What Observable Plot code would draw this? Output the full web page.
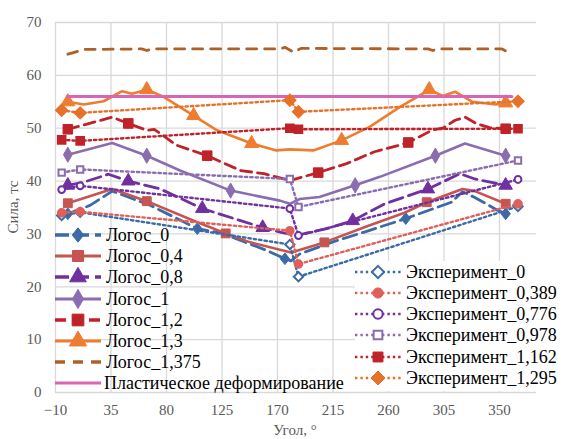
<!DOCTYPE html>
<html><head><meta charset="utf-8">
<script src="https://cdn.jsdelivr.net/npm/d3@7"></script>
<script src="https://cdn.jsdelivr.net/npm/@observablehq/plot@0.6"></script>
<style>
body{margin:0;background:#fff;}
#wrap{position:relative;width:564px;height:439px;overflow:hidden;background:#fff;font-family:"Liberation Serif","Times New Roman",serif;}
#wrap svg.plot{position:absolute;left:0;top:0;}
.ttl{position:absolute;font-size:15px;line-height:15px;color:#595959;white-space:nowrap;}
.leg{position:absolute;}
.row{position:absolute;left:0;height:20px;line-height:20px;font-size:18px;color:#000;white-space:nowrap;}
.row svg{position:absolute;left:0;top:0;}
.row span{position:absolute;top:0;}
</style></head><body>
<div id="wrap"></div>
<script>
// ---- tick labels ----
const xTicks = [-10, 35, 80, 125, 170, 215, 260, 305, 350];
const yTicks = [0, 10, 20, 30, 40, 50, 60, 70];

// ---- series names ----
const logosNames = ["Логос_0", "Логос_0,4", "Логос_0,8", "Логос_1", "Логос_1,2", "Логос_1,3", "Логос_1,375"];
const plasticName = "Пластическое деформирование";
const expNames = ["Эксперимент_0", "Эксперимент_0,389", "Эксперимент_0,776", "Эксперимент_0,978", "Эксперимент_1,162", "Эксперимент_1,295"];

// ---- Логос series (angle, force, angles that carry a marker) ----
const logos0Angle = [0, 18, 36, 67, 105, 124, 161, 176, 181, 188, 215, 241, 274, 311, 320, 330, 349, 355];
const logos0Force = [33.8, 35.4, 38.1, 35.4, 31.0, 30.2, 26.9, 25.3, 24.9, 26.2, 28.5, 30.4, 32.9, 36.0, 38.0, 36.9, 34.4, 33.8];
const logos0Markers = [0, 105, 176, 274, 355];

const logos04Angle = [0, 36, 64, 105, 128, 148, 181, 208, 241, 273, 291, 320, 330, 355];
const logos04Force = [35.8, 38.5, 36.2, 32.2, 30.1, 28.4, 26.5, 28.4, 31.3, 34.0, 36.0, 38.5, 38.1, 35.7];
const logos04Markers = [0, 64, 128, 208, 291, 355];

const logos08Angle = [0, 13, 33, 49, 75, 109, 158, 173, 185, 210, 231, 257, 292, 318, 330, 355];
const logos08Force = [39.2, 39.8, 41.3, 40.0, 38.5, 34.8, 31.2, 30.3, 29.7, 31.0, 32.5, 35.7, 38.5, 41.4, 40.4, 39.2];
const logos08Markers = [0, 49, 109, 158, 231, 292, 355];

const logos1Angle = [0, 36, 64, 91, 132, 172, 180, 188, 204, 233, 253, 298, 322, 355];
const logos1Force = [45.0, 47.2, 44.8, 42.0, 38.2, 36.3, 35.7, 36.6, 37.0, 39.2, 40.8, 44.8, 47.1, 44.8];
const logos1Markers = [0, 64, 132, 233, 298, 355];

const logos12Angle = [0, 36, 49, 64, 70, 88, 113, 140, 159, 180, 203, 226, 248, 269, 276, 296, 304, 314, 322, 331, 342, 355];
const logos12Force = [49.8, 52.1, 50.9, 49.6, 49.8, 46.8, 44.8, 42.0, 41.4, 40.1, 41.6, 43.3, 45.5, 46.8, 47.3, 49.7, 50.0, 51.5, 52.1, 50.9, 50.1, 49.9];
const logos12Markers = [0, 49, 113, 203, 276, 355];

const logos13Angle = [0, 13, 29, 44, 52, 64, 78, 102, 121, 149, 169, 180, 199, 222, 245, 269, 283, 293, 304, 314, 328, 347, 355];
const logos13Force = [55.0, 54.5, 55.1, 57.0, 56.5, 57.3, 55.9, 52.4, 49.6, 47.1, 45.8, 46.0, 45.8, 47.7, 50.3, 54.0, 55.9, 57.3, 56.1, 56.9, 55.0, 54.5, 54.8];
const logos13Markers = [0, 64, 102, 149, 222, 293, 355];

const logos1375Angle = [0, 6, 13, 60, 64, 68, 172, 176, 183, 189, 292, 296, 300, 352, 360];
const logos1375Force = [64.0, 64.4, 64.9, 65.0, 64.7, 65.0, 65.0, 65.3, 64.4, 65.1, 65.0, 64.7, 65.0, 65.0, 64.0];
const logos1375Markers = [];

const plasticAngle = [0, 360];
const plasticForce = [56, 56];

// ---- Эксперимент series ----
const expAngle = [-5, 10, 180, 187, 365];
const exp0Force = [33.5, 34.1, 28.0, 21.9, 35.2];
const exp0389Force = [34.0, 34.2, 30.6, 24.3, 35.7];
const exp0776Force = [38.4, 39.1, 34.8, 29.7, 40.3];
const exp0978Force = [41.6, 42.2, 40.4, 35.1, 43.9];
const exp1162Force = [47.8, 47.6, 50.0, 49.8, 49.9];
const exp1295Force = [53.4, 52.9, 55.3, 53.1, 55.1];

// ---- styling (separate from data) ----
const wideDiamond = {draw(ctx, size){const s=Math.sqrt(size);const h=s*0.62,w=s*0.5;ctx.moveTo(0,-h);ctx.lineTo(w,0);ctx.lineTo(0,h);ctx.lineTo(-w,0);ctx.closePath();}};
const logosStyle = [
  {color:"#3b6ba6", dash:"14,6", sym:wideDiamond, r:5.3, w:2.8},
  {color:"#c65450", dash:null, sym:"square", r:5.0, w:2.6},
  {color:"#7030a0", dash:"14,6", sym:"triangle", r:5.0, w:2.8},
  {color:"#8a6db0", dash:null, sym:"diamond", r:4.6, w:2.6},
  {color:"#c0222a", dash:"11,6", sym:"square", r:5.4, w:2.8},
  {color:"#ed7d31", dash:null, sym:"triangle", r:5.2, w:2.6},
  {color:"#ad6128", dash:"10,8", sym:null, r:0, w:2.8}
];
const plasticStyle = {color:"#d965b6", w:3};
const expStyle = [
  {color:"#3b6ba6", sym:"diamond2", r:4.2, fill:"white"},
  {color:"#df5f5b", sym:"circle", r:3.8, fill:"#df5f5b"},
  {color:"#7030a0", sym:"circle", r:3.4, fill:"white"},
  {color:"#8a6db0", sym:"square", r:3.6, fill:"white"},
  {color:"#c0222a", sym:"square", r:4.3, fill:"#c0222a"},
  {color:"#e8712a", sym:"diamond2", r:5.0, fill:"#e8712a"}
];

const logosData = [
  [logos0Angle, logos0Force, logos0Markers],
  [logos04Angle, logos04Force, logos04Markers],
  [logos08Angle, logos08Force, logos08Markers],
  [logos1Angle, logos1Force, logos1Markers],
  [logos12Angle, logos12Force, logos12Markers],
  [logos13Angle, logos13Force, logos13Markers],
  [logos1375Angle, logos1375Force, logos1375Markers]
];
const expData = [exp0Force, exp0389Force, exp0776Force, exp0978Force, exp1162Force, exp1295Force];

const marks = [
  Plot.gridX(xTicks, {stroke:"#d9d9d9", strokeOpacity:1, strokeWidth:1.3}),
  Plot.gridY(yTicks, {stroke:"#d9d9d9", strokeOpacity:1, strokeWidth:1.3}),
  Plot.axisX(xTicks, {tickSize:0, tickPadding:12, fontSize:15, label:null}),
  Plot.axisY(yTicks, {tickSize:0, tickPadding:14, fontSize:15, label:null})
];
logosData.forEach(([ang, frc, mk], i) => {
  const st = logosStyle[i];
  const rows = ang.map((a, j) => ({a, f: frc[j]}));
  marks.push(Plot.line(rows, {x:"a", y:"f", stroke:st.color, strokeWidth:st.w, strokeDasharray:st.dash || undefined, strokeLinejoin:"round"}));
  if (mk.length) marks.push(Plot.dot(rows.filter(r => mk.includes(r.a)), {x:"a", y:"f", symbol:st.sym, r:st.r, fill:st.color, stroke:st.color, strokeWidth:1}));
});
const plasticRows = plasticAngle.map((a, j) => ({a, f: plasticForce[j]}));
marks.push(Plot.line(plasticRows, {x:"a", y:"f", stroke:plasticStyle.color, strokeWidth:plasticStyle.w}));
expData.forEach((frc, i) => {
  const st = expStyle[i];
  const rows = expAngle.map((a, j) => ({a, f: frc[j]}));
  marks.push(Plot.line(rows, {x:"a", y:"f", stroke:st.color, strokeWidth:2.4, strokeDasharray:"2.4,3"}));
  marks.push(Plot.dot(rows, {x:"a", y:"f", symbol:st.sym, r:st.r, fill:st.fill, stroke:st.color, strokeWidth:2}));
});

const chart = Plot.plot({
  width:564, height:439,
  marginLeft:55, marginRight:28, marginTop:22, marginBottom:47,
  style:{fontFamily:"'Liberation Serif','Times New Roman',serif", fontSize:"15px", color:"#595959", background:"transparent", overflow:"visible"},
  x:{domain:[-10, 380]},
  y:{domain:[0, 70]},
  marks
});
const wrap = document.getElementById("wrap");
wrap.appendChild(chart);

// axis titles
const yt = document.createElement("div");
yt.className = "ttl"; yt.textContent = "Сила, тс";
yt.style.left = "13px"; yt.style.top = "207px";
yt.style.transform = "translate(-50%,-50%) rotate(-90deg)";
wrap.appendChild(yt);
const xt = document.createElement("div");
xt.className = "ttl"; xt.textContent = "Угол, °";
xt.style.left = "295px"; xt.style.top = "423px";
xt.style.transform = "translateX(-50%)";
wrap.appendChild(xt);

// legends
const symMap = {square:d3.symbolSquare, triangle:d3.symbolTriangle, diamond:d3.symbolDiamond, diamond2:d3.symbolDiamond2, circle:d3.symbolCircle};
function swatch(color, width, dash, sw, sym, r, fill){
  const svg = d3.create("svg").attr("width", width).attr("height", 20);
  svg.append("line").attr("x1", 0).attr("x2", width).attr("y1", 10).attr("y2", 10)
    .attr("stroke", color).attr("stroke-width", sw).attr("stroke-dasharray", dash || null);
  if (sym) {
    const t = typeof sym === "string" ? symMap[sym] : sym;
    svg.append("path").attr("d", d3.symbol(t, Math.PI * r * r)())
      .attr("transform", `translate(${width/2},10)`)
      .attr("fill", fill).attr("stroke", color).attr("stroke-width", fill === "white" ? 2 : 1);
  }
  return svg.node();
}
function addRow(parent, top, textLeft, sw, label){
  const row = document.createElement("div");
  row.className = "row"; row.style.top = top + "px"; row.style.width = "320px";
  row.appendChild(sw);
  const sp = document.createElement("span"); sp.textContent = label; sp.style.left = textLeft + "px";
  row.appendChild(sp);
  parent.appendChild(row);
}
const legL = document.createElement("div");
legL.className = "leg"; legL.style.left = "55px"; legL.style.top = "0px";
wrap.appendChild(legL);
logosNames.forEach((n, i) => {
  const st = logosStyle[i];
  addRow(legL, 225 + i * 21.2, 51, swatch(st.color, 46, st.dash, st.w + 0.6, st.sym, st.r + 1.2, st.color), n);
});
addRow(legL, 225 + 7 * 21.2, 49, swatch(plasticStyle.color, 46, null, 3.2, null, 0, null), plasticName);

const legR = document.createElement("div");
legR.className = "leg"; legR.style.left = "355px"; legR.style.top = "261px";
legR.style.width = "215px"; legR.style.height = "130px"; legR.style.background = "#fff";
wrap.appendChild(legR);
expNames.forEach((n, i) => {
  const st = expStyle[i];
  addRow(legR, 0.5 + i * 21.3, 51, swatch(st.color, 46, "2.4,3", 2.6, st.sym, st.r + 1.3, st.fill), n);
});
</script>
</body></html>
